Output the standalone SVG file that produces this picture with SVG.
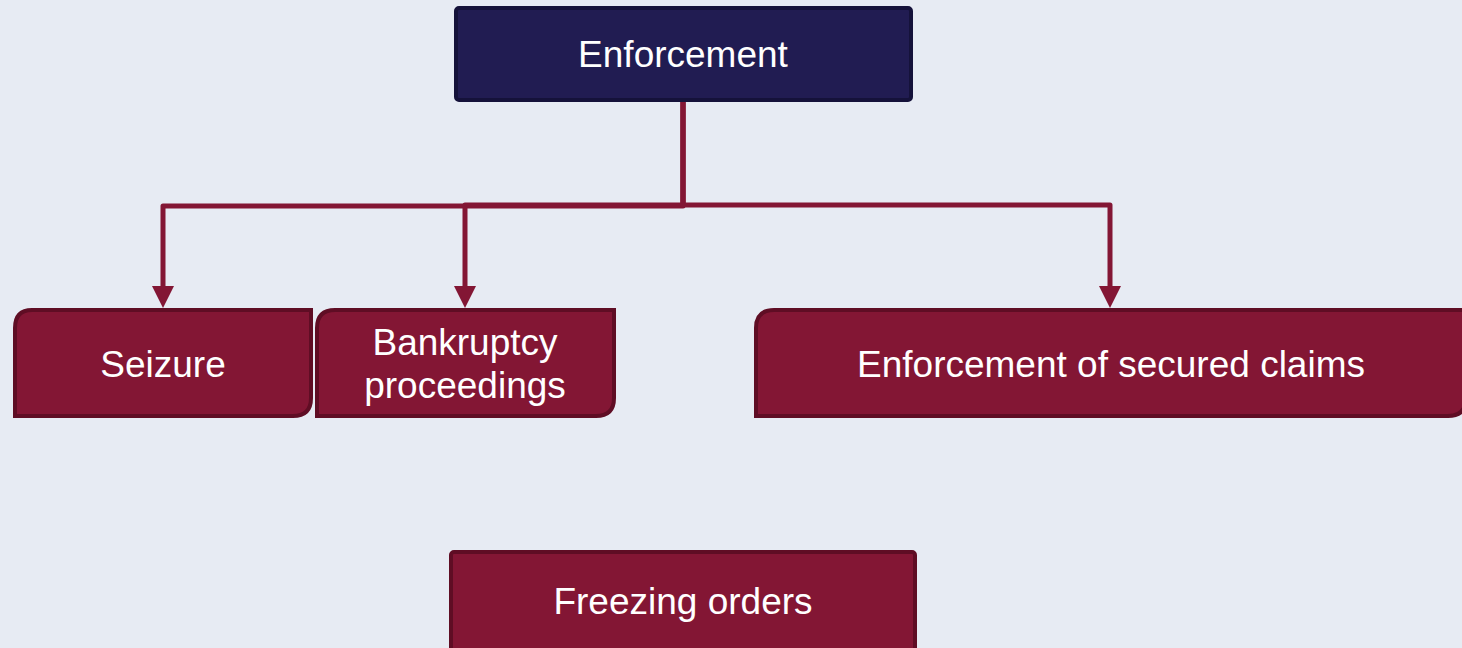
<svg xmlns="http://www.w3.org/2000/svg" width="1462" height="648" viewBox="0 0 1462 648">
  <style>
    .lbl { font-family: "Liberation Sans", Arial, sans-serif; font-size: 37px; fill: #ffffff; text-anchor: middle; }
    .leaf { fill: #831634; stroke: #5f0d24; stroke-width: 4; }
    .root { fill: #211c52; stroke: #15123a; stroke-width: 4; }
    .wire { fill: none; stroke: #831634; stroke-width: 5; stroke-linejoin: round; }
  </style>
  <defs>
    <marker id="arrow" markerUnits="userSpaceOnUse" markerWidth="24" markerHeight="22" refX="12" refY="21" orient="auto" viewBox="0 0 24 22">
      <path d="M0,0 L24,0 L12,22 Z" fill="#831634"/>
    </marker>
  </defs>
  <rect width="1462" height="648" fill="#e7ebf3"/>

  <g id="connectors">
    <path class="wire" d="M683,101 V206 H163 V286" />
    <path class="wire" d="M683,101 V205 H465 V286" />
    <path class="wire" d="M683,101 V205 H1110 V286" />
    <path d="M152,286 L174,286 L163,308 Z" fill="#831634"/>
    <path d="M454,286 L476,286 L465,308 Z" fill="#831634"/>
    <path d="M1099,286 L1121,286 L1110,308 Z" fill="#831634"/>
  </g>

  <g id="enforcement">
    <rect class="root" x="456" y="8" width="455" height="92" rx="3"/>
    <text class="lbl" x="683" y="67">Enforcement</text>
  </g>

  <g id="seizure">
    <path class="leaf" d="M32,310 H311 V398 Q311,416 293,416 H15 V328 Q15,310 32,310 Z"/>
    <text class="lbl" x="163" y="377">Seizure</text>
  </g>

  <g id="bankruptcy">
    <path class="leaf" d="M335,310 H614 V398 Q614,416 596,416 H317 V328 Q317,310 335,310 Z"/>
    <text class="lbl" x="465" y="355">Bankruptcy</text>
    <text class="lbl" x="465" y="398">proceedings</text>
  </g>

  <g id="secured-claims">
    <path class="leaf" d="M774,310 H1466 V398 Q1466,416 1448,416 H756 V328 Q756,310 774,310 Z"/>
    <text class="lbl" x="1111" y="377">Enforcement of secured claims</text>
  </g>

  <g id="freezing-orders">
    <rect class="leaf" x="451" y="552" width="464" height="110" rx="3"/>
    <text class="lbl" x="683" y="614">Freezing orders</text>
  </g>
</svg>
